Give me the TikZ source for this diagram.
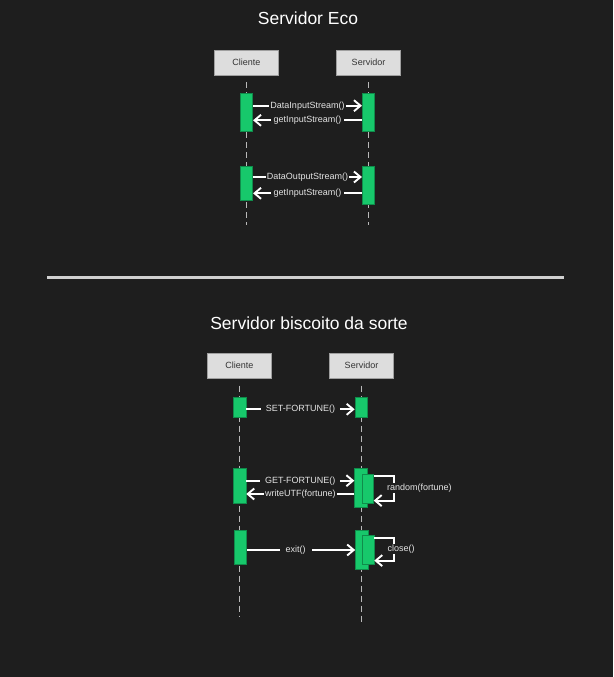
\documentclass[tikz,border=0pt]{standalone}
\usepackage{fontspec}
\setmainfont{Liberation Sans}
\usetikzlibrary{arrows.meta, positioning}
\definecolor{bgdark}{HTML}{1E1E1E}
\definecolor{actgreen}{HTML}{17C86B}
\definecolor{boxgray}{HTML}{DDDDDD}
\definecolor{txtgray}{HTML}{E4E4E4}
\definecolor{sepgray}{HTML}{D0D0D0}

\begin{document}
\begin{tikzpicture}[
	x=1pt,
	y=-1pt,
	font=\fontsize{9}{10}\selectfont,
	actor/.style={
		draw=gray!75,
		fill=boxgray,
		minimum width=64pt,
		minimum height=25pt,
		inner sep=0pt,
		text=black!80
	},
	bar/.style={
		draw=actgreen!70!black,
		line width=.6pt,
		fill=actgreen,
		minimum width=12.5pt,
		inner sep=0pt,
		anchor=north
	},
	life/.style={
		draw=gray!55!white,
		dash pattern=on 6pt off 4pt,
		line width=.9pt
	},
	msg/.style={
		draw=white,
		line width=1.9pt,
		-{Straight Barb[length=6.5pt, width=11pt]}
	},
	lbl/.style={
		fill=bgdark,
		text=txtgray,
		inner sep=3pt
	},
	title/.style={
		text=white,
		font=\fontsize{17.5}{21}\selectfont
	}
	]
	% background and page size
	\fill[bgdark] (0,0) rectangle (613,677);
	\useasboundingbox (0,0) rectangle (613,677);

	% ---------- Servidor Eco ----------
	\node[title] (ecoT) at (308,18) {Servidor Eco};
	\node[actor] (ec) at (246.5,62.5) {Cliente};
	\node[actor] (es) at (368.5,62.5) {Servidor};

	% lifelines
	\coordinate (ecEnd) at (246.5,225);
	\coordinate (esEnd) at (368.5,225);
	\draw[life] ([yshift=-7pt]ec.south) -- (ecEnd);
	\draw[life] ([yshift=-7pt]es.south) -- (esEnd);

	% activation bars
	\node[bar, minimum height=37.7pt] (eca1) at (246.5,93.3) {};
	\node[bar, minimum height=38pt] (esa1) at (368.5,93.3) {};
	\node[bar, minimum height=34.3pt] (eca2) at (246.5,165.7) {};
	\node[bar, minimum height=38.6pt] (esa2) at (368.5,165.7) {};

	% messages
	\draw[msg] ([yshift=-12.4pt]eca1.north east) -- node[lbl, inner sep=1.2pt] {DataInputStream()} ([yshift=-12.4pt]esa1.north west);
	\draw[msg] ([yshift=-27pt]esa1.north west) -- node[lbl] {getInputStream()} ([yshift=-27pt]eca1.north east);
	\draw[msg] ([yshift=-11.3pt]eca2.north east) -- node[lbl, inner sep=1.2pt] {DataOutputStream()} ([yshift=-11.3pt]esa2.north west);
	\draw[msg] ([yshift=-27.6pt]esa2.north west) -- node[lbl] {getInputStream()} ([yshift=-27.6pt]eca2.north east);

	% separator
	\coordinate (sepL) at (47,277.5);
	\coordinate (sepR) at (564,277.5);
	\draw[sepgray, line width=3pt] (sepL) -- (sepR);

	% ---------- Servidor biscoito da sorte ----------
	\node[title] (bisT) at (309,323) {Servidor biscoito da sorte};
	\node[actor] (bc) at (239.5,365.7) {Cliente};
	\node[actor] (bs) at (361.5,365.7) {Servidor};

	% lifelines
	\coordinate (bcEnd) at (239.5,616.7);
	\coordinate (bsEnd) at (361.5,621.7);
	\draw[life] ([yshift=-7.3pt]bc.south) -- (bcEnd);
	\draw[life] ([yshift=-7.3pt]bs.south) -- (bsEnd);

	% activation bars
	\node[bar, minimum height=20pt] (bca1) at (239.8,396.7) {};
	\node[bar, minimum height=20pt] (bsa1) at (361.2,396.7) {};
	\node[bar, minimum height=35pt] (bca2) at (239.7,468.3) {};
	\node[bar, minimum height=38.4pt] (bsa2) at (360.9,468.3) {};
	\node[bar, minimum height=28.7pt, minimum width=10.8pt] (bsn2) at (368,474) {};
	\node[bar, minimum height=34.3pt] (bca3) at (240.5,530) {};
	\node[bar, minimum height=39pt] (bsa3) at (361.7,530) {};
	\node[bar, minimum height=29pt, minimum width=11.3pt] (bsn3) at (368.3,535) {};

	% messages
	\draw[msg] ([yshift=-12.6pt]bca1.north east) -- node[lbl, inner sep=5pt] {SET-FORTUNE()} ([yshift=-12.6pt]bsa1.north west);
	\draw[msg] ([yshift=-12.4pt]bca2.north east) -- node[lbl, inner sep=5pt] {GET-FORTUNE()} ([yshift=-12.4pt]bsa2.north west);
	\draw[msg] ([yshift=-25.7pt]bsa2.north west) -- node[lbl, inner sep=1.2pt] {writeUTF(fortune)} ([yshift=-25.7pt]bca2.north east);
	\draw[msg] ([yshift=-1.7pt]bsn2.north east) -- ++(20,0) |- node[lbl, pos=.25, anchor=west, xshift=-8.5pt, inner sep=1pt] {random(fortune)} ([yshift=2.7pt]bsn2.south east);
	\draw[msg] ([yshift=-20pt]bca3.north east) -- node[lbl, pos=.45, inner sep=6pt] {exit()} ([yshift=-20pt]bsa3.north west);
	\draw[msg] ([yshift=-2.7pt]bsn3.north east) -- ++(20,0) |- node[lbl, pos=.25, anchor=west, xshift=-8.5pt, inner sep=1pt] {close()} ([yshift=4pt]bsn3.south east);
\end{tikzpicture}
\end{document}
